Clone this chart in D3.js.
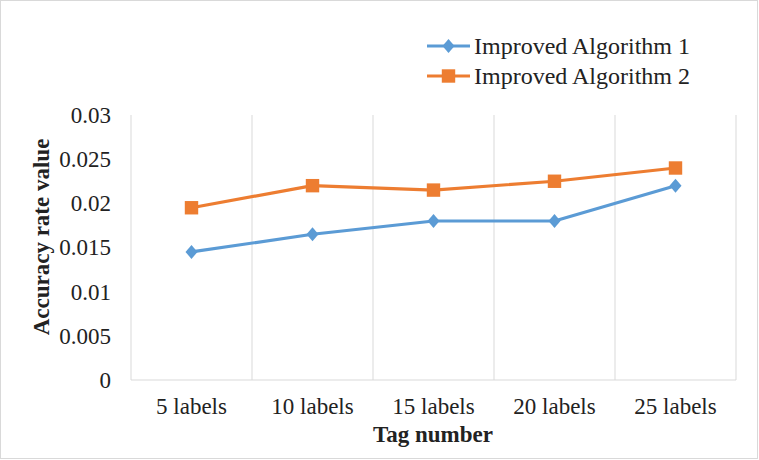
<!DOCTYPE html>
<html><head><meta charset="utf-8">
<script src="https://cdn.jsdelivr.net/npm/d3@7"></script>
<style>body{margin:0;background:#fff}svg{display:block}</style>
</head><body><svg id="c" width="759" height="460"></svg>
<script>
const categories = ["5 labels","10 labels","15 labels","20 labels","25 labels"];
const series1 = [0.0145,0.0165,0.018,0.018,0.022];
const series2 = [0.0195,0.022,0.0215,0.0225,0.024];
const seriesNames = ["Improved Algorithm 1","Improved Algorithm 2"];
const yTicks = [0,0.005,0.01,0.015,0.02,0.025,0.03];
const yTickLabels = ["0","0.005","0.01","0.015","0.02","0.025","0.03"];

const svg = d3.select("#c");
const font = "Liberation Serif, Times New Roman, serif";
const fs = 23;
svg.append("rect").attr("x",0.5).attr("y",0.5).attr("width",757).attr("height",458)
  .attr("fill","#fff").attr("stroke","#d9d9d9");

const L=131,R=736,T=115,B=380;
const x = d3.scaleBand().domain(categories).range([L,R]);
const y = d3.scaleLinear().domain([0,0.03]).range([B,T]);

const bounds = categories.map(c=>x(c)).concat([R]);
svg.append("g").selectAll("line").data(bounds.slice(1)).join("line")
  .attr("x1",d=>d).attr("x2",d=>d).attr("y1",T).attr("y2",B)
  .attr("stroke","#d9d9d9").attr("stroke-width",1);
svg.append("line").attr("x1",L).attr("x2",L).attr("y1",T).attr("y2",B).attr("stroke","#d9d9d9");
svg.append("line").attr("x1",L).attr("x2",R).attr("y1",B).attr("y2",B).attr("stroke","#d9d9d9");

const ya = d3.axisLeft(y).tickValues(yTicks).tickFormat((d,i)=>yTickLabels[i]).tickSize(0).tickPadding(20);
const gy = svg.append("g").attr("transform",`translate(${L},0)`).call(ya);
gy.select(".domain").remove();
gy.selectAll("text").attr("font-family",font).attr("font-size",fs).attr("fill","#222");

const xa = d3.axisBottom(x).tickSize(0).tickPadding(18);
const gx = svg.append("g").attr("transform",`translate(0,${B})`).call(xa);
gx.select(".domain").remove();
gx.selectAll("text").attr("font-family",font).attr("font-size",fs).attr("fill","#222");

svg.append("text").attr("x",433).attr("y",442).attr("text-anchor","middle")
  .attr("font-family",font).attr("font-size",fs).attr("font-weight","bold").attr("fill","#222").text("Tag number");
svg.append("text").attr("transform","translate(49,237) rotate(-90)").attr("text-anchor","middle")
  .attr("font-family",font).attr("font-size",fs).attr("font-weight","bold").attr("fill","#222").text("Accuracy rate value");

const colors = ["#5B9BD5","#ED7D31"];
const data = [series1,series2];
const cx = c=>x(c)+x.bandwidth()/2;
const line = d3.line().x((d,i)=>cx(categories[i])).y(d=>y(d));
const diamondType = {draw(ctx,size){ctx.moveTo(0,-7);ctx.lineTo(6,0);ctx.lineTo(0,7);ctx.lineTo(-6,0);ctx.closePath();}};
const diamond = d3.symbol().type(diamondType).size(1);
const square = d3.symbol().type(d3.symbolSquare).size(180);

data.forEach((s,k)=>{
  svg.append("path").datum(s).attr("d",line).attr("fill","none")
    .attr("stroke",colors[k]).attr("stroke-width",3.2).attr("stroke-linejoin","round");
  svg.append("g").selectAll("path").data(s).join("path")
    .attr("d",k===0?diamond:square)
    .attr("transform",(d,i)=>`translate(${cx(categories[i])},${y(d)})`)
    .attr("fill",colors[k]);
});

const leg = svg.append("g");
[46,76].forEach((ly,k)=>{
  leg.append("line").attr("x1",427).attr("x2",470).attr("y1",ly).attr("y2",ly)
    .attr("stroke",colors[k]).attr("stroke-width",3.2);
  leg.append("path").attr("d",k===0?diamond:square).attr("transform",`translate(448.5,${ly})`).attr("fill",colors[k]);
  leg.append("text").attr("x",474).attr("y",ly+8).attr("font-family",font).attr("font-size",24)
    .attr("fill","#222").text(seriesNames[k]);
});
</script></body></html>
